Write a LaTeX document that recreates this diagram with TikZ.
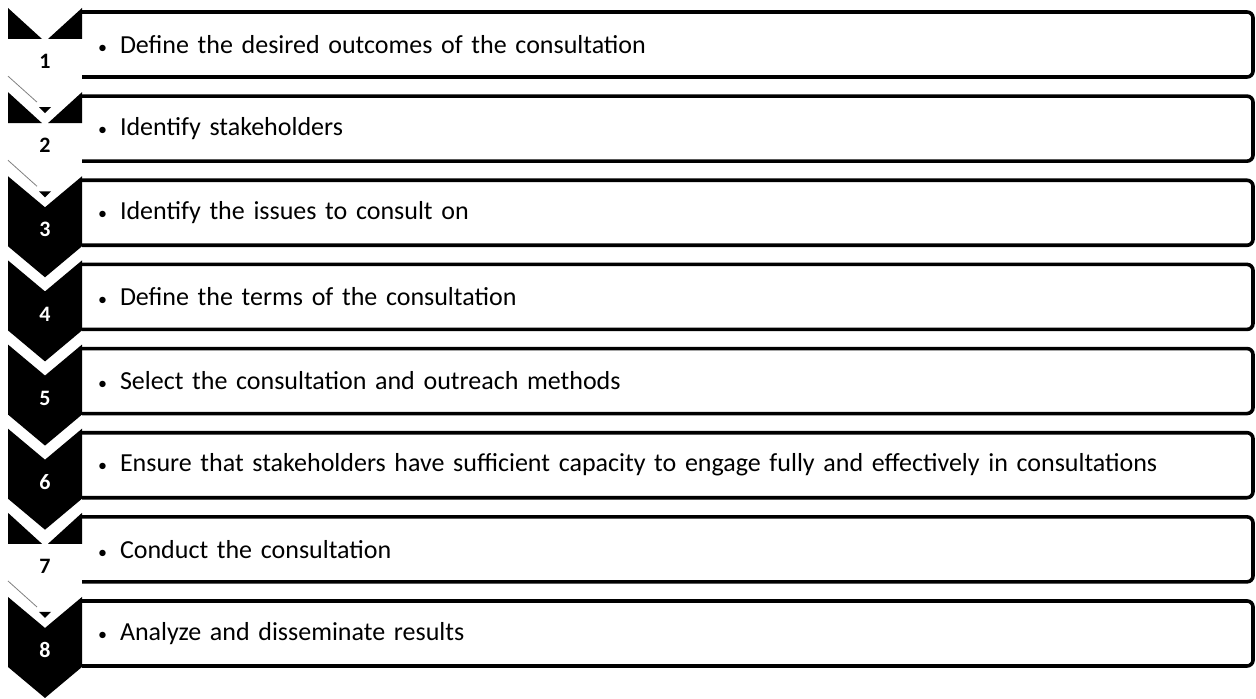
\documentclass[tikz,border=0pt]{standalone}
\usepackage{fontspec}
\setmainfont{Carlito}
\usetikzlibrary{positioning}

\newcommand{\dotitem}{\makebox[11pt][l]{\fontsize{9}{10}\selectfont\textbullet}}

\begin{document}
\begin{tikzpicture}[
  node distance=9.57pt,
  box/.style={
    inner xsep=8pt,
    inner ysep=0pt,
    outer sep=0pt,
    text width=569.5pt,
    minimum height=32.5pt,
    align=left,
    font=\fontsize{13}{15}\selectfont
  },
  rim/.style={line width=1.8pt,rounded corners=3pt},
  num/.style={font=\fontsize{11}{12}\selectfont\bfseries,text=white},
  numdark/.style={num,text=black},
  chev/.pic={\fill (-37pt,2pt) -- (-18.5pt,-13.5pt) -- (0pt,2pt) -- (0pt,-33pt)
    -- (-18.5pt,-48.5pt) -- (-37pt,-33pt) -- cycle;},
  wings/.pic={\fill (-37pt,2pt) -- (-20pt,-13.5pt) -- (-37pt,-13.5pt) -- cycle
    (0pt,2pt) -- (0pt,-13.5pt) -- (-17pt,-13.5pt) -- cycle;},
  stub/.pic={\fill (-21.5pt,-5.5pt) -- (-15.5pt,-5.5pt) -- (-18.5pt,-8.5pt) -- cycle;
    \draw[gray,line width=0.4pt] (-37pt,10pt) -- (-22.5pt,-3pt);}
]
\useasboundingbox (0,0) rectangle (628pt,-349.5pt);

% step boxes
\node[box,anchor=north west] (b1) at (41pt,-6pt) {\dotitem Define the desired outcomes of the consultation};
\node[box,below=of b1] (b2) {\dotitem Identify stakeholders};
\node[box,below=of b2] (b3) {\dotitem Identify the issues to consult on};
\node[box,below=of b3] (b4) {\dotitem Define the terms of the consultation};
\node[box,below=of b4] (b5) {\dotitem Select the consultation and outreach methods};
\node[box,below=of b5] (b6) {\dotitem Ensure that stakeholders have sufficient capacity to engage fully and effectively in consultations};
\node[box,below=of b6] (b7) {\dotitem Conduct the consultation};
\node[box,below=of b7] (b8) {\dotitem Analyze and disseminate results};

\draw[rim] (b1.north west) -- (b1.north east) -- (b1.south east) -- (b1.south west);
\draw[rim] (b2.north west) -- (b2.north east) -- (b2.south east) -- (b2.south west);
\draw[rim] (b3.north west) -- (b3.north east) -- (b3.south east) -- (b3.south west);
\draw[rim] (b4.north west) -- (b4.north east) -- (b4.south east) -- (b4.south west);
\draw[rim] (b5.north west) -- (b5.north east) -- (b5.south east) -- (b5.south west);
\draw[rim] (b6.north west) -- (b6.north east) -- (b6.south east) -- (b6.south west);
\draw[rim] (b7.north west) -- (b7.north east) -- (b7.south east) -- (b7.south west);
\draw[rim] (b8.north west) -- (b8.north east) -- (b8.south east) -- (b8.south west);

% chevrons
\pic at (b1.north west) {wings};
\pic at (b2.north west) {wings};
\pic at (b3.north west) {chev};
\pic at (b4.north west) {chev};
\pic at (b5.north west) {chev};
\pic at (b6.north west) {chev};
\pic at (b7.north west) {wings};
\pic at (b8.north west) {chev};
\pic at (b2.north west) {stub};
\pic at (b3.north west) {stub};
\pic at (b8.north west) {stub};

% step numbers
\node[numdark] (n1) at ([xshift=-18.5pt,yshift=-8.5pt]b1.west) {1};
\node[numdark] (n2) at ([xshift=-18.5pt,yshift=-8.5pt]b2.west) {2};
\node[num] (n3) at ([xshift=-18.5pt,yshift=-8.5pt]b3.west) {3};
\node[num] (n4) at ([xshift=-18.5pt,yshift=-8.5pt]b4.west) {4};
\node[num] (n5) at ([xshift=-18.5pt,yshift=-8.5pt]b5.west) {5};
\node[num] (n6) at ([xshift=-18.5pt,yshift=-8.5pt]b6.west) {6};
\node[numdark] (n7) at ([xshift=-18.5pt,yshift=-8.5pt]b7.west) {7};
\node[num] (n8) at ([xshift=-18.5pt,yshift=-8.5pt]b8.west) {8};
\end{tikzpicture}
\end{document}
